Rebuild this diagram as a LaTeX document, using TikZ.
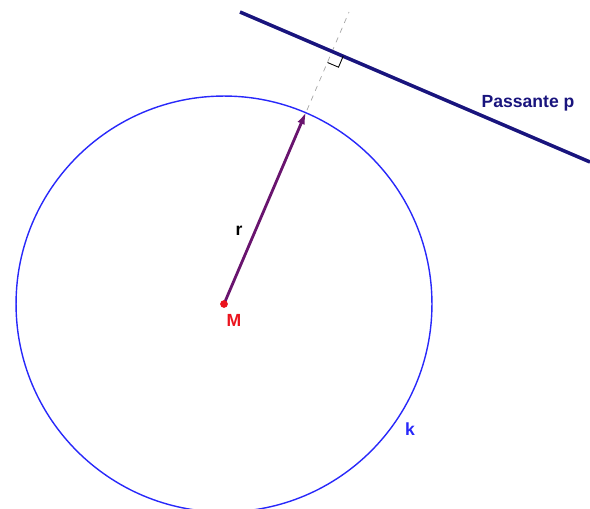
\documentclass[tikz,border=0pt]{standalone}
\usepackage{fontspec}
\setmainfont{Liberation Sans}
\usetikzlibrary{arrows.meta}
\definecolor{navyp}{RGB}{25,20,125}
\definecolor{blauk}{RGB}{40,40,250}
\definecolor{lilar}{RGB}{105,20,110}
\definecolor{rotm}{RGB}{235,20,30}
\begin{document}
\begin{tikzpicture}[
    x=0.02cm, y=-0.02cm,
    passante/.style={draw=navyp, line width=2pt},
    kreis/.style={draw=blauk, line width=0.8pt},
    rpfeil/.style={draw=lilar, line width=1.6pt, -{Latex[length=7pt,width=4.5pt]}},
    lot/.style={draw=gray!70, line width=0.4pt, dashed},
    lbl/.style={font=\bfseries\fontsize{10}{12}\selectfont, inner sep=1pt}
]
\useasboundingbox (0,0) rectangle (590,509);

% Points
\coordinate (M) at (224,304);
\coordinate (T) at (306,112);
\coordinate (pA) at (240,12);
\coordinate (pB) at (590,162);
\coordinate (F) at (332.2,51.5);
\coordinate (top) at (349,12);

% Circle k
\draw[kreis] (M) circle[radius=4.16cm];

% Perpendicular through M
\draw[lot] (M) -- (top);

% Passante p
\draw[passante] (pA) -- (pB);

% Right angle mark
\draw[black, line width=0.5pt] (343.2,56.2) -- (338.5,67.2) -- (327.5,62.5);

% Radius r
\draw[rpfeil] (M) -- (T);
\fill[rotm] (M) circle[radius=2.2pt];

% Labels
\node[lbl, text=black] (rlabel) at (239,231) {r};
\node[lbl, text=rotm] (Mlabel) at (234,320) {M};
\node[lbl, text=blauk] (klabel) at (410,429) {k};
\node[lbl, text=navyp] (plabel) at (528,103) {Passante p};

\end{tikzpicture}
\end{document}
